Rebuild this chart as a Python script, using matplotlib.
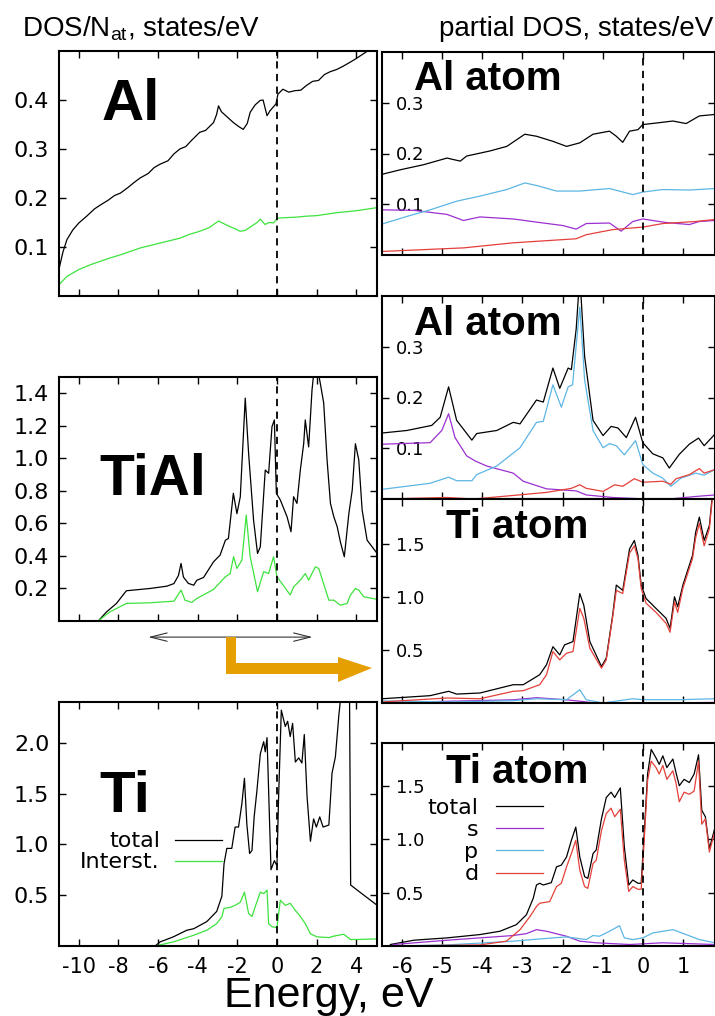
import matplotlib.pyplot as plt
from matplotlib.patches import Polygon

plt.rcParams['axes.unicode_minus'] = False
plt.rcParams['font.family'] = 'DejaVu Sans'

# ---------------- left column: DOS per atom ----------------
al_tot_E = [-11.0, -10.8, -10.6, -10.3, -10.0, -9.6, -9.2, -8.9, -8.5, -8.2, -7.9, -7.5, -7.2, -6.9, -6.5,
            -6.2, -5.9, -5.5, -5.2, -4.9, -4.6, -4.3, -3.9, -3.6, -3.2, -3.05, -2.95, -2.8, -2.5, -2.2,
            -1.9, -1.7, -1.5, -1.35, -1.1, -0.85, -0.7, -0.5, -0.35, -0.2, -0.05, 0.05, 0.3, 0.6, 0.9,
            1.2, 1.5, 1.8, 2.1, 2.4, 2.7, 3.0, 3.3, 3.6, 3.9, 4.2, 4.5, 4.8, 5.0]
al_tot = [0.055, 0.09, 0.115, 0.135, 0.149, 0.163, 0.178, 0.186, 0.196, 0.205, 0.21, 0.222, 0.232, 0.241, 0.25,
          0.262, 0.269, 0.276, 0.29, 0.30, 0.305, 0.318, 0.334, 0.338, 0.354, 0.37, 0.388, 0.376, 0.365, 0.354,
          0.345, 0.34, 0.352, 0.375, 0.39, 0.399, 0.40, 0.368, 0.378, 0.385, 0.392, 0.412, 0.422, 0.416, 0.419,
          0.42, 0.43, 0.438, 0.44, 0.452, 0.458, 0.462, 0.468, 0.475, 0.482, 0.49, 0.498, 0.505, 0.51]
al_int_E = [-11.0, -10.6, -10.0, -9.4, -8.9, -8.4, -7.9, -7.4, -6.9, -6.4, -5.9, -5.4, -4.9, -4.4, -3.9, -3.4,
            -2.95, -2.7, -2.4, -2.1, -1.86, -1.6, -1.3, -1.0, -0.84, -0.6, -0.4, -0.17, 0.03, 0.5, 1.0, 1.5,
            2.0, 2.5, 3.0, 3.5, 4.0, 4.5, 5.0]
al_int = [0.023, 0.04, 0.054, 0.064, 0.071, 0.078, 0.084, 0.091, 0.098, 0.103, 0.108, 0.113, 0.118, 0.126,
          0.132, 0.14, 0.153, 0.148, 0.142, 0.137, 0.132, 0.134, 0.142, 0.15, 0.157, 0.146, 0.15, 0.149, 0.159,
          0.16, 0.161, 0.163, 0.164, 0.167, 0.17, 0.172, 0.174, 0.177, 0.18]

tial_tot_E = [-9.02, -8.6, -8.1, -7.6, -7.25, -6.4, -5.56, -5.2, -4.97, -4.84, -4.72, -4.47, -4.2, -4.05, -3.7,
              -3.2, -2.87, -2.6, -2.45, -2.2, -2.02, -1.85, -1.6, -1.43, -1.18, -0.98, -0.84, -0.59, -0.42,
              -0.25, -0.13, -0.03, 0.17, 0.51, 0.71, 0.84, 1.01, 1.18, 1.35, 1.43, 1.6, 1.77, 1.94, 2.19, 2.36,
              2.53, 2.7, 2.87, 3.04, 3.2, 3.4, 3.63, 3.8, 3.96, 4.13, 4.3, 4.55, 5.06]
tial_tot = [0.0, 0.056, 0.108, 0.186, 0.19, 0.2, 0.214, 0.23, 0.28, 0.354, 0.27, 0.231, 0.22, 0.25, 0.268,
            0.364, 0.405, 0.497, 0.507, 0.785, 0.66, 0.764, 1.37, 1.03, 0.62, 0.415, 0.456, 0.928, 0.908,
            1.195, 1.236, 0.785, 0.744, 0.641, 0.549, 0.764, 0.723, 0.928, 1.09, 1.236, 1.07, 1.42, 1.62, 1.46,
            1.34, 0.99, 0.723, 0.641, 0.58, 0.487, 0.395, 0.661, 0.805, 1.09, 0.99, 0.682, 0.497, 0.415]
tial_int_E = [-9.02, -8.43, -7.6, -6.4, -5.2, -4.84, -4.64, -4.3, -4.05, -3.2, -2.6, -2.36, -2.19, -2.02, -1.77,
              -1.55, -1.35, -0.98, -0.67, -0.42, -0.17, 0.0, 0.25, 0.67, 0.84, 1.18, 1.43, 1.6, 1.94, 2.11,
              2.62, 2.87, 3.2, 3.54, 3.71, 3.96, 4.13, 4.38, 5.06]
tial_int = [0.0, 0.056, 0.108, 0.112, 0.122, 0.19, 0.128, 0.114, 0.138, 0.194, 0.272, 0.292, 0.395, 0.323,
            0.374, 0.651, 0.395, 0.18, 0.303, 0.292, 0.395, 0.272, 0.231, 0.16, 0.21, 0.251, 0.292, 0.251,
            0.333, 0.323, 0.128, 0.128, 0.097, 0.108, 0.159, 0.2, 0.19, 0.149, 0.133]

ti_tot_E = [-6.15, -5.9, -5.23, -4.55, -4.2, -3.54, -3.04, -2.78, -2.67, -2.53, -2.28, -2.11, -1.94, -1.77,
            -1.64, -1.52, -1.38, -1.26, -1.15, -1.01, -0.84, -0.67, -0.59, -0.5, -0.42, -0.3, -0.13, 0.0, 0.08,
            0.22, 0.42, 0.54, 0.67, 0.79, 0.93, 1.1, 1.26, 1.38, 1.52, 1.69, 1.85, 1.99, 2.16, 2.33, 2.62,
            2.78, 2.95, 3.12, 3.3, 3.66, 3.72, 4.05, 5.06]
ti_tot = [0.0, 0.04, 0.09, 0.155, 0.17, 0.24, 0.34, 0.49, 0.81, 0.96, 0.96, 1.17, 1.17, 1.4, 1.65, 1.2, 0.91,
          0.94, 1.27, 1.53, 1.89, 2.01, 1.91, 2.05, 1.53, 0.75, 0.84, 0.79, 1.44, 2.32, 2.16, 2.21, 2.06, 2.19,
          1.81, 1.85, 1.8, 2.08, 1.47, 1.03, 1.25, 1.17, 1.27, 1.17, 1.19, 1.70, 1.86, 2.26, 2.6, 2.6, 0.6,
          0.55, 0.40]
ti_int_E = [-6.15, -5.23, -4.2, -3.54, -3.04, -2.78, -2.67, -2.36, -2.11, -1.85, -1.64, -1.43, -1.26, -1.1,
            -0.84, -0.67, -0.5, -0.42, -0.25, 0.0, 0.17, 0.42, 0.67, 0.93, 1.18, 1.43, 1.69, 2.02, 2.62, 2.87,
            3.37, 3.71, 4.05, 5.06]
ti_int = [0.0, 0.04, 0.106, 0.155, 0.22, 0.287, 0.37, 0.38, 0.40, 0.43, 0.53, 0.32, 0.29, 0.385, 0.53, 0.515,
          0.55, 0.22, 0.19, 0.18, 0.45, 0.40, 0.42, 0.35, 0.29, 0.22, 0.12, 0.09, 0.083, 0.097, 0.116, 0.064,
          0.064, 0.07]

# ---------------- right column: partial DOS ----------------
# Al atom in Al
alA_tot_E = [-6.5, -6.04, -5.46, -4.88, -4.55, -4.39, -3.81, -3.39, -2.94, -2.65, -2.24, -1.9, -1.57, -1.24,
             -0.83, -0.66, -0.5, -0.33, -0.12, 0.0, 0.33, 0.75, 1.08, 1.41, 1.8]
alA_tot = [0.159, 0.168, 0.178, 0.191, 0.185, 0.195, 0.205, 0.214, 0.238, 0.234, 0.224, 0.214, 0.221, 0.238,
           0.244, 0.234, 0.222, 0.244, 0.247, 0.257, 0.26, 0.264, 0.259, 0.274, 0.277]
alA_p_E = [-6.5, -5.88, -5.3, -4.64, -4.06, -3.39, -2.94, -2.65, -2.15, -1.57, -0.83, -0.25, 0.0, 0.5, 1.16, 1.8]
alA_p = [0.061, 0.076, 0.089, 0.106, 0.116, 0.129, 0.142, 0.137, 0.126, 0.126, 0.131, 0.119, 0.124, 0.129,
         0.128, 0.131]
alA_s_E = [-6.5, -5.71, -4.88, -4.47, -4.06, -3.23, -2.57, -1.99, -1.66, -1.41, -0.83, -0.54, -0.25, 0.0, 0.58,
           1.16, 1.41, 1.8]
alA_s = [0.089, 0.088, 0.080, 0.068, 0.075, 0.071, 0.064, 0.058, 0.051, 0.062, 0.063, 0.047, 0.066, 0.071,
         0.064, 0.06, 0.066, 0.068]
alA_d_E = [-6.5, -4.47, -3.23, -1.66, -1.41, -0.75, 0.0, 0.5, 1.32, 1.8]
alA_d = [0.007, 0.014, 0.024, 0.032, 0.04, 0.05, 0.055, 0.062, 0.066, 0.07]

# Al atom in TiAl
alB_tot_E = [-6.5, -5.88, -5.26, -5.05, -4.84, -4.64, -4.26, -4.14, -3.64, -3.23, -3.06, -2.65, -2.48, -2.24,
             -2.07, -1.86, -1.78, -1.66, -1.57, -1.45, -1.24, -0.99, -0.79, -0.62, -0.41, -0.18, 0.0, 0.25,
             0.5, 0.66, 0.91, 1.16, 1.39, 1.53, 1.8]
alB_tot = [0.13, 0.135, 0.145, 0.161, 0.221, 0.155, 0.116, 0.129, 0.135, 0.151, 0.148, 0.195, 0.191, 0.258,
           0.218, 0.258, 0.255, 0.335, 0.44, 0.281, 0.155, 0.125, 0.143, 0.14, 0.121, 0.161, 0.111, 0.089,
           0.081, 0.061, 0.088, 0.108, 0.12, 0.105, 0.128]
alB_p_E = [-6.5, -5.3, -4.84, -4.64, -4.26, -4.14, -3.64, -3.06, -2.65, -2.48, -2.24, -2.03, -1.86, -1.75,
           -1.57, -1.45, -1.24, -0.99, -0.83, -0.66, -0.46, -0.18, 0.0, 0.25, 0.5, 0.7, 0.95, 1.32, 1.53, 1.8]
alB_p = [0.019, 0.031, 0.043, 0.036, 0.036, 0.048, 0.065, 0.101, 0.151, 0.153, 0.225, 0.181, 0.221, 0.225,
         0.378, 0.235, 0.135, 0.101, 0.109, 0.105, 0.087, 0.115, 0.068, 0.051, 0.041, 0.025, 0.041, 0.051,
         0.047, 0.058]
alB_s_E = [-6.5, -5.3, -5.01, -4.84, -4.68, -4.39, -4.18, -3.89, -3.23, -2.98, -2.4, -1.66, -1.41, -0.75, 0.08,
           0.66, 1.32, 1.8]
alB_s = [0.108, 0.111, 0.135, 0.168, 0.121, 0.085, 0.075, 0.065, 0.051, 0.035, 0.02, 0.016, 0.008, 0.003,
         0.0, 0.0, 0.005, 0.008]
alB_d_E = [-6.5, -4.88, -4.22, -3.23, -2.4, -1.78, -1.57, -1.41, -0.99, -0.7, -0.5, -0.21, 0.0, 0.5, 0.7, 0.83,
           1.16, 1.41, 1.53, 1.8]
alB_d = [0.0, 0.003, 0.0, 0.007, 0.013, 0.021, 0.028, 0.021, 0.015, 0.028, 0.025, 0.04, 0.033, 0.035, 0.029,
         0.04, 0.048, 0.06, 0.051, 0.058]

# Ti atom in TiAl
tiB_tot_E = [-6.5, -5.3, -4.84, -4.64, -4.06, -3.23, -2.98, -2.57, -2.4, -2.24, -2.07, -1.95, -1.74, -1.57,
             -1.47, -1.32, -1.03, -0.91, -0.75, -0.66, -0.5, -0.33, -0.21, -0.12, -0.04, 0.08, 0.33, 0.58,
             0.68, 0.79, 0.87, 1.0, 1.24, 1.32, 1.41, 1.53, 1.66, 1.74, 1.8]
tiB_tot = [0.04, 0.069, 0.11, 0.084, 0.094, 0.172, 0.172, 0.266, 0.36, 0.53, 0.453, 0.547, 0.578, 1.03, 0.92,
           0.578, 0.344, 0.422, 0.828, 1.11, 1.06, 1.45, 1.53, 1.39, 1.11, 0.984, 0.89, 0.797, 0.703, 1.0,
           0.906, 1.11, 1.39, 1.61, 1.75, 1.53, 1.67, 1.98, 2.1]
tiB_d_E = [-6.5, -4.88, -4.06, -3.23, -2.98, -2.57, -2.4, -2.24, -2.07, -1.9, -1.74, -1.57, -1.47, -1.32,
           -1.03, -0.91, -0.75, -0.66, -0.5, -0.33, -0.21, -0.12, -0.04, 0.08, 0.33, 0.58, 0.68, 0.79, 0.87,
           1.0, 1.24, 1.32, 1.41, 1.53, 1.66, 1.74, 1.8]
tiB_d = [0.01, 0.047, 0.04, 0.11, 0.116, 0.172, 0.266, 0.484, 0.406, 0.469, 0.484, 0.89, 0.797, 0.516, 0.328,
         0.406, 0.81, 1.06, 1.03, 1.41, 1.48, 1.36, 1.08, 0.94, 0.853, 0.75, 0.666, 0.953, 0.853, 1.08, 1.36,
         1.56, 1.69, 1.48, 1.64, 1.95, 2.05]
tiB_p_E = [-6.5, -4.88, -3.23, -2.65, -1.9, -1.57, -1.41, -0.99, -0.25, 0.0, 0.91, 1.8]
tiB_p = [0.02, 0.01, 0.022, 0.04, 0.031, 0.125, 0.031, 0.0, 0.04, 0.031, 0.031, 0.04]
tiB_s_E = [-6.5, -4.88, -3.23, -2.65, -1.9, -1.16, 0.08, 1.8]
tiB_s = [0.0, 0.016, 0.03, 0.05, 0.03, 0.0, 0.0, 0.005]

# Ti atom in Ti
tiA_tot_E = [-6.29, -5.71, -4.88, -4.06, -3.56, -3.15, -2.9, -2.73, -2.65, -2.57, -2.48, -2.28, -2.15, -2.03,
             -1.9, -1.78, -1.67, -1.57, -1.45, -1.37, -1.24, -1.16, -1.03, -0.91, -0.79, -0.7, -0.56, -0.46,
             -0.35, -0.25, -0.12, -0.04, 0.04, 0.12, 0.21, 0.33, 0.41, 0.5, 0.6, 0.75, 0.83, 0.91, 1.03, 1.16,
             1.28, 1.39, 1.47, 1.56, 1.66, 1.8]
tiA_tot = [0.014, 0.054, 0.076, 0.107, 0.138, 0.2, 0.293, 0.447, 0.571, 0.587, 0.571, 0.593, 0.741, 0.757,
           0.834, 0.989, 1.113, 0.834, 0.649, 0.633, 0.865, 0.9, 1.19, 1.39, 1.44, 1.39, 1.48, 0.927, 0.571,
           0.618, 0.587, 0.587, 1.08, 1.61, 1.84, 1.76, 1.70, 1.78, 1.67, 1.75, 1.62, 1.5, 1.56, 1.53, 1.61,
           1.79, 1.27, 1.21, 0.91, 1.11]
tiA_d_E = [-6.29, -4.06, -3.4, -3.06, -2.81, -2.65, -2.57, -2.32, -2.15, -2.03, -1.9, -1.78, -1.67, -1.57,
           -1.45, -1.37, -1.24, -1.16, -1.03, -0.91, -0.79, -0.7, -0.56, -0.46, -0.35, -0.25, -0.12, -0.04,
           0.04, 0.12, 0.21, 0.33, 0.41, 0.5, 0.6, 0.75, 0.83, 0.91, 1.03, 1.16, 1.28, 1.39, 1.47, 1.56,
           1.66, 1.8]
tiA_d = [0.0, 0.01, 0.045, 0.153, 0.277, 0.37, 0.4, 0.416, 0.556, 0.587, 0.741, 0.865, 0.989, 0.71, 0.556,
         0.54, 0.772, 0.803, 1.08, 1.24, 1.29, 1.21, 1.28, 0.803, 0.51, 0.556, 0.531, 0.531, 1.02, 1.55, 1.73,
         1.67, 1.61, 1.69, 1.56, 1.64, 1.52, 1.35, 1.44, 1.42, 1.45, 1.73, 1.14, 1.19, 0.88, 1.08]
tiA_s_E = [-6.21, -4.88, -4.06, -3.23, -2.9, -2.65, -2.4, -1.9, -1.57, -1.16, -0.33, 0.5, 1.8]
tiA_s = [0.014, 0.054, 0.076, 0.098, 0.116, 0.153, 0.138, 0.091, 0.045, 0.03, 0.014, 0.03, 0.014]
tiA_p_E = [-6.21, -4.88, -3.23, -2.24, -1.9, -1.41, -1.24, -1.08, -0.83, -0.58, -0.46, -0.25, 0.0, 0.25,
           0.75, 1.08, 1.41, 1.8]
tiA_p = [0.0, 0.01, 0.045, 0.076, 0.085, 0.06, 0.098, 0.091, 0.138, 0.19, 0.076, 0.06, 0.076, 0.122, 0.153,
         0.107, 0.06, 0.03]

C_TOT = 'black'
C_INT = '#3de33d'
C_S = '#9b30d0'
C_P = '#5cb6e4'
C_D = '#e4403a'
LW = 0.9

fig = plt.figure(figsize=(7.15, 10.16), dpi=100)
W, H = 715, 1016


def box(x0, y0, x1, y1):
    return [x0 / W, 1 - y1 / H, (x1 - x0) / W, (y1 - y0) / H]


def style(ax, xlim, xticks, ylim, yticks, ylabels, left_col, bottom):
    ax.set_xlim(*xlim)
    ax.set_ylim(*ylim)
    ax.set_xticks(xticks)
    ax.set_yticks(yticks, ylabels)
    ax.tick_params(direction='in', top=True, right=True, length=5, width=1, labelbottom=bottom)
    ax.tick_params(axis='x', labelsize=15, pad=8)
    if left_col:
        ax.tick_params(axis='y', labelsize=16, pad=7)
    else:
        ax.tick_params(axis='y', labelsize=13, pad=-10)
        plt.setp(ax.get_yticklabels(), ha='left')
    for s in ax.spines.values():
        s.set_linewidth(1.5)
    ax.axvline(0, color='k', ls='--', lw=1.3, dashes=(4, 3))


def big(ax, x, y, txt, size):
    ax.text(x, y, txt, transform=ax.transAxes, fontsize=size, fontweight='bold',
            family='Liberation Sans', va='baseline', ha='left')


LX = (-11, 5.05)
LT = [-10, -8, -6, -4, -2, 0, 2, 4]
RX = (-6.5, 1.8)
RT = [-6, -5, -4, -3, -2, -1, 0, 1]

# left column
ax_al = fig.add_axes(box(59, 51, 377, 296))
ax_al.plot(al_tot_E, al_tot, color=C_TOT, lw=LW)
ax_al.plot(al_int_E, al_int, color=C_INT, lw=LW)
style(ax_al, LX, LT, (0, 0.5), [0.1, 0.2, 0.3, 0.4], ['0.1', '0.2', '0.3', '0.4'], True, False)
big(ax_al, 0.135, 0.718, 'Al', 42)

ax_tial = fig.add_axes(box(59, 377, 377, 621))
ax_tial.plot(tial_tot_E, tial_tot, color=C_TOT, lw=LW)
ax_tial.plot(tial_int_E, tial_int, color=C_INT, lw=LW)
style(ax_tial, LX, LT, (0, 1.5), [0.2, 0.4, 0.6, 0.8, 1.0, 1.2, 1.4],
      ['0.2', '0.4', '0.6', '0.8', '1.0', '1.2', '1.4'], True, False)
big(ax_tial, 0.127, 0.516, 'TiAl', 41)
ax_tial.annotate('', xy=(1.8, -0.066), xytext=(-6.5, -0.066), xycoords=('data', 'axes fraction'),
                 textcoords=('data', 'axes fraction'), annotation_clip=False,
                 arrowprops=dict(arrowstyle='<->,head_length=1.2,head_width=0.3', lw=0.8, color='#333333',
                                 shrinkA=0, shrinkB=0))

ax_ti = fig.add_axes(box(59, 702, 377, 946))
l_tot, = ax_ti.plot(ti_tot_E, ti_tot, color=C_TOT, lw=LW)
l_int, = ax_ti.plot(ti_int_E, ti_int, color=C_INT, lw=LW)
style(ax_ti, LX, LT, (0, 2.4), [0.5, 1.0, 1.5, 2.0], ['0.5', '1.0', '1.5', '2.0'], True, True)
big(ax_ti, 0.127, 0.549, 'Ti', 42)
ax_ti.legend([l_tot, l_int], ['total', 'Interst.'], loc='upper right', bbox_to_anchor=(0.513, 0.47),
             markerfirst=False, frameon=False, fontsize=16, handlelength=2.1, handletextpad=0.7,
             labelspacing=0.05, borderpad=0, borderaxespad=0)

# right column
RY1 = ([0.1, 0.2, 0.3], ['0.1', '0.2', '0.3'])
RY2 = ([0.5, 1.0, 1.5], ['0.5', '1.0', '1.5'])

ax_r1 = fig.add_axes(box(382, 52, 715, 255))
ax_r1.plot(alA_tot_E, alA_tot, color=C_TOT, lw=LW)
ax_r1.plot(alA_s_E, alA_s, color=C_S, lw=LW)
ax_r1.plot(alA_p_E, alA_p, color=C_P, lw=LW)
ax_r1.plot(alA_d_E, alA_d, color=C_D, lw=LW)
style(ax_r1, RX, RT, (0, 0.4), *RY1, False, False)
big(ax_r1, 0.097, 0.813, 'Al atom', 29)

ax_r2 = fig.add_axes(box(382, 296, 715, 499))
ax_r2.plot(alB_tot_E, alB_tot, color=C_TOT, lw=LW)
ax_r2.plot(alB_s_E, alB_s, color=C_S, lw=LW)
ax_r2.plot(alB_p_E, alB_p, color=C_P, lw=LW)
ax_r2.plot(alB_d_E, alB_d, color=C_D, lw=LW)
style(ax_r2, RX, RT, (0, 0.4), *RY1, False, False)
big(ax_r2, 0.097, 0.808, 'Al atom', 29)

ax_r3 = fig.add_axes(box(382, 499, 715, 703))
ax_r3.plot(tiB_tot_E, tiB_tot, color=C_TOT, lw=LW)
ax_r3.plot(tiB_s_E, tiB_s, color=C_S, lw=LW)
ax_r3.plot(tiB_p_E, tiB_p, color=C_P, lw=LW)
ax_r3.plot(tiB_d_E, tiB_d, color=C_D, lw=LW)
style(ax_r3, RX, RT, (0, 1.92), *RY2, False, False)
big(ax_r3, 0.193, 0.809, 'Ti atom', 29)

ax_r4 = fig.add_axes(box(382, 743, 715, 946))
h_tot, = ax_r4.plot(tiA_tot_E, tiA_tot, color=C_TOT, lw=LW)
h_s, = ax_r4.plot(tiA_s_E, tiA_s, color=C_S, lw=LW)
h_p, = ax_r4.plot(tiA_p_E, tiA_p, color=C_P, lw=LW)
h_d, = ax_r4.plot(tiA_d_E, tiA_d, color=C_D, lw=LW)
style(ax_r4, RX, RT, (0, 1.9), *RY2, False, True)
big(ax_r4, 0.193, 0.803, 'Ti atom', 29)
ax_r4.legend([h_tot, h_s, h_p, h_d], ['total', 's', 'p', 'd'], loc='upper right',
             bbox_to_anchor=(0.483, 0.73), markerfirst=False, frameon=False, fontsize=16,
             handlelength=2.1, handletextpad=0.8, labelspacing=0.1, borderpad=0, borderaxespad=0)

# titles and common axis label
fig.text(22 / W, 1 - 36 / H, r'DOS/N$_\mathregular{at}$, states/eV', family='Liberation Sans',
         fontsize=20, va='baseline', ha='left')
fig.text(713 / W, 1 - 36 / H, 'partial DOS, states/eV', family='Liberation Sans',
         fontsize=20, va='baseline', ha='right')
fig.text(329 / W, 1 - 1007 / H, 'Energy, eV', family='Liberation Sans', fontsize=31,
         va='baseline', ha='center')

# orange L-shaped arrow pointing to the partial DOS panels
arrow_px = [(226, 637), (236, 637), (236, 663), (338, 663), (338, 657), (372, 668),
            (338, 682), (338, 674), (226, 674)]
fig.patches.append(Polygon([(x / W, 1 - y / H) for x, y in arrow_px], closed=True,
                           transform=fig.transFigure, facecolor='#e69f00', edgecolor='none'))

fig.savefig('out.png', dpi=100)
